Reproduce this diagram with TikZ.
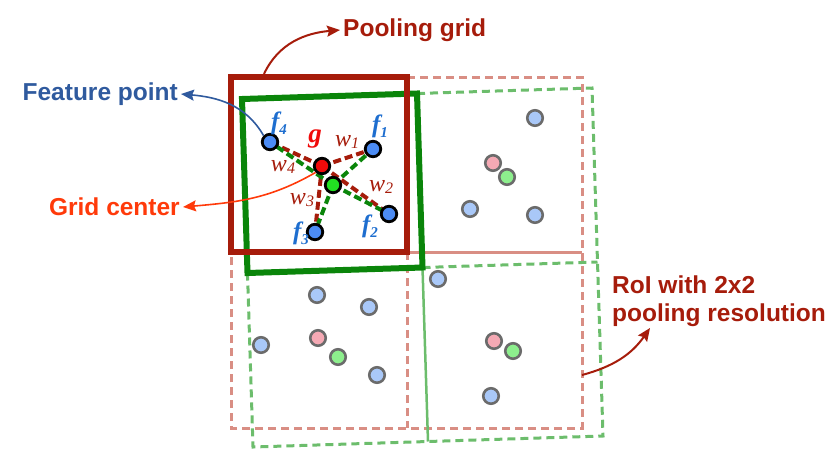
\documentclass[tikz,border=0pt]{standalone}
\usepackage{fontspec}
\setmainfont{Liberation Sans}
\newfontfamily\lblfont{Liberation Serif}
\usetikzlibrary{arrows.meta}
\definecolor{poolred}{HTML}{A61C0B}
\definecolor{poolgreen}{HTML}{0A850A}
\definecolor{roired}{HTML}{D98E84}
\definecolor{roigreen}{HTML}{6CBD6C}
\definecolor{featblue}{HTML}{2F5A9E}
\definecolor{centred}{HTML}{FF3A0A}
\definecolor{fblue}{HTML}{1E6ECF}
\definecolor{ptblue}{HTML}{4C8CF4}
\definecolor{ptred}{HTML}{F00A0A}
\definecolor{ptgreen}{HTML}{22E022}
\definecolor{fadeblue}{HTML}{A9C8F8}
\definecolor{fadepink}{HTML}{F5A9B4}
\definecolor{fadegreen}{HTML}{8DEF8D}
\def\ptSize{15.5pt}
\def\bigfont{\fontsize{24.5}{28}\selectfont\bfseries}
% f_i and w_i labels
\newcommand{\flbl}[1]{\lblfont\bfseries\itshape\fontsize{25}{25}\selectfont f\raisebox{-0.2em}{\fontsize{15}{15}\selectfont #1}}
\newcommand{\wlbl}[1]{\lblfont\itshape\fontsize{24}{24}\selectfont w\raisebox{-0.1em}{\fontsize{16}{16}\selectfont #1}}

\begin{document}
\begin{tikzpicture}[
    x=1pt, y=-1pt,
    >={Stealth[length=13pt,width=11pt,inset=2pt]},
    mainpt/.style={circle, draw=black, line width=2.8pt, minimum size=\ptSize, inner sep=0pt},
    fadept/.style={circle, draw=black!58, line width=2.6pt, minimum size=\ptSize, inner sep=0pt},
    roibox/.style={line width=3pt, dash pattern=on 8pt off 5pt},
    weightline/.style={line width=4pt, dash pattern=on 8pt off 4pt},
    txt/.style={inner sep=3pt, font=\bigfont}
]
\useasboundingbox (0,0) rectangle (830,453);

% RoI with 2x2 bins (axis aligned)
\draw[roibox, roired] (407,77) -- (582,77) -- (582,428) -- (231,428) -- (231,252);
\draw[roibox, roired] (407,252) -- (407,428);
\draw[line width=3pt, roired] (407,252) -- (582,252);

% RoI with 2x2 bins (rotated)
\draw[roibox, roigreen] (417,93.5) -- (592,88) -- (603,436) -- (253,447) -- (247.5,273);
\draw[roibox, roigreen] (422.5,267.5) -- (597.5,262);
\draw[line width=2.5pt, roigreen] (422.5,267.5) -- (428,441.5);

% pooling grids
\draw[line width=6pt, poolgreen] (242,99) -- (417,93.5) -- (422.5,267.5) -- (247.5,273) -- cycle;
\draw[line width=6pt, poolred] (231,77) rectangle (407,252);

% points in the other bins
\foreach \x/\y [count=\i] in {535/118, 470/209, 535/215, 317/295, 369/307, 261/345, 377/375, 438/279, 491/396}
    \node[fadept, fill=fadeblue] (b\i) at (\x,\y) {};
\foreach \x/\y [count=\i] in {493/163, 318/338, 494/341}
    \node[fadept, fill=fadepink] (p\i) at (\x,\y) {};
\foreach \x/\y [count=\i] in {507/177, 338/357, 513/351}
    \node[fadept, fill=fadegreen] (q\i) at (\x,\y) {};

% sampling points of the top-left bin
\coordinate (g) at (322,166);
\coordinate (c) at (333,185);
\coordinate (f1) at (373,149);
\coordinate (f2) at (389,214);
\coordinate (f3) at (315,232);
\coordinate (f4) at (270,142);
\foreach \f in {f1,f2,f3,f4} {
    \draw[weightline, poolred] (g) -- (\f);
    \draw[weightline, poolgreen] (c) -- (\f);
}
\node[mainpt, fill=ptblue] (n1) at (f1) {};
\node[mainpt, fill=ptblue] (n2) at (f2) {};
\node[mainpt, fill=ptblue] (n3) at (f3) {};
\node[mainpt, fill=ptblue] (n4) at (f4) {};
\node[mainpt, fill=ptred] (ng) at (g) {};
\node[mainpt, fill=ptgreen] (nc) at (c) {};

\node[inner sep=0pt, text=fblue] (lf1) at (380,126) {\flbl{1}};
\node[inner sep=0pt, text=fblue] (lf2) at (370,226) {\flbl{2}};
\node[inner sep=0pt, text=fblue] (lf3) at (301,233) {\flbl{3}};
\node[inner sep=0pt, text=fblue] (lf4) at (279,123) {\flbl{4}};
\node[inner sep=0pt, text=ptred] (lg) at (315,139) {\lblfont\bfseries\itshape\fontsize{27}{27}\selectfont g};
\node[inner sep=0pt, text=poolred] (lw1) at (347,142) {\wlbl{1}};
\node[inner sep=0pt, text=poolred] (lw2) at (381,187) {\wlbl{2}};
\node[inner sep=0pt, text=poolred] (lw3) at (302,200) {\wlbl{3}};
\node[inner sep=0pt, text=poolred] (lw4) at (283,167) {\wlbl{4}};

% labels
\node[txt, text=poolred, anchor=west] (poollbl) at (340,30) {Pooling grid};
\node[txt, text=featblue, anchor=east] (featlbl) at (181,94) {Feature point};
\node[txt, text=centred, anchor=east] (centrelbl) at (183,207) {Grid center};
\node[txt, text=poolred, anchor=north west, align=left, inner sep=0pt] (roilbl) at (612,276) {RoI with 2x2\\pooling resolution};

\coordinate (pooltop) at (264,74);
\coordinate (roiside) at (582,375);
\coordinate (roitip) at (650,328);
\draw[->, line width=2pt, poolred] (pooltop) to[out=65, in=185] (poollbl.west);
\draw[->, line width=1.6pt, featblue] (n4.north west) to[out=120, in=-5] (featlbl.east);
\draw[->, line width=1.6pt, centred] (ng.south west) to[out=210, in=5] (centrelbl.east);
\draw[->, line width=2pt, poolred] (roiside) to[out=15, in=235] (roitip);
\end{tikzpicture}
\end{document}
